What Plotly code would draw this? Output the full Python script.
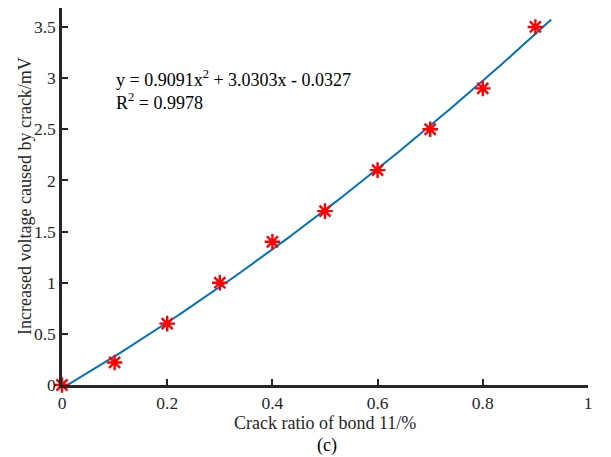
import numpy as np
import plotly.graph_objects as go

crack_ratio = [0, 0.1, 0.2, 0.3, 0.4, 0.5, 0.6, 0.7, 0.8, 0.9]
voltage = [0, 0.22, 0.6, 1.0, 1.4, 1.7, 2.1, 2.5, 2.9, 3.5]
fit_coef = [0.9091, 3.0303, -0.0327]
fit_xmax = 0.93
x_ticks = [0, 0.2, 0.4, 0.6, 0.8, 1]
y_ticks = [0, 0.5, 1, 1.5, 2, 2.5, 3, 3.5]
eq_text = "y = 0.9091x<sup>2</sup> + 3.0303x - 0.0327<br>R<sup>2</sup> = 0.9978"

xf = np.linspace(0, fit_xmax, 200)
yf = np.polyval(fit_coef, xf)

font = "Liberation Serif, Times New Roman, serif"
axc = "#262626"
fs_tick = 17.5
fs = 18

# the page body adds an 8px offset; plot area in page pixels: x 62..588, y 8..385
PX0, PX1, PY0, PY1 = 62, 588, 8, 385


def px(x):
    return (x - PX0) / (PX1 - PX0)


def py(y):
    return (PY1 - y) / (PY1 - PY0)


fig = go.Figure()
fig.add_trace(go.Scatter(x=xf, y=yf, mode="lines",
                         line=dict(color="#0072BD", width=2), showlegend=False))
fig.add_trace(go.Scatter(x=crack_ratio, y=voltage, mode="markers",
                         marker=dict(symbol="asterisk-open", size=13, color="#FF0000",
                                     line=dict(color="#FF0000", width=2.4)),
                         showlegend=False, cliponaxis=False))

fig.add_annotation(x=px(114), y=py(90), xref="paper", yref="paper",
                   xanchor="left", yanchor="middle", text=eq_text,
                   showarrow=False, align="left", font=dict(family=font, size=fs, color="black"))
fig.add_annotation(x=px(325), y=py(423), xref="paper", yref="paper",
                   text="Crack ratio of bond 11/%", showarrow=False,
                   xanchor="center", yanchor="middle",
                   font=dict(family=font, size=fs, color=axc))
fig.add_annotation(x=px(25), y=py(196), xref="paper", yref="paper",
                   text="Increased voltage caused by crack/mV", showarrow=False, textangle=-90,
                   xanchor="center", yanchor="middle",
                   font=dict(family=font, size=fs, color=axc))
fig.add_annotation(x=px(327), y=py(445), xref="paper", yref="paper", text="(c)",
                   showarrow=False, xanchor="center", yanchor="middle",
                   font=dict(family=font, size=fs, color="black"))

fig.update_layout(
    width=611, height=457,
    margin=dict(l=PX0 - 8, r=611 - (PX1 - 8), t=0, b=457 - (PY1 - 8)),
    plot_bgcolor="white", paper_bgcolor="white",
    font=dict(family=font, size=fs, color=axc),
    xaxis=dict(range=[0, 1], tickvals=x_ticks, ticktext=[str(v) for v in x_ticks],
               ticks="inside", ticklen=6, tickwidth=2, tickcolor=axc, automargin=False,
               tickfont=dict(family=font, size=fs_tick, color=axc),
               showline=True, linecolor=axc, linewidth=2.5, showgrid=False, zeroline=False),
    yaxis=dict(range=[0, (PY1 - PY0) / 102.3], tickvals=y_ticks, ticktext=[str(v) for v in y_ticks],
               ticks="inside", ticklen=6, tickwidth=2, tickcolor=axc, automargin=False,
               tickfont=dict(family=font, size=fs_tick, color=axc),
               showline=True, linecolor=axc, linewidth=2.5, showgrid=False, zeroline=False),
)

fig.write_html("out.html")
